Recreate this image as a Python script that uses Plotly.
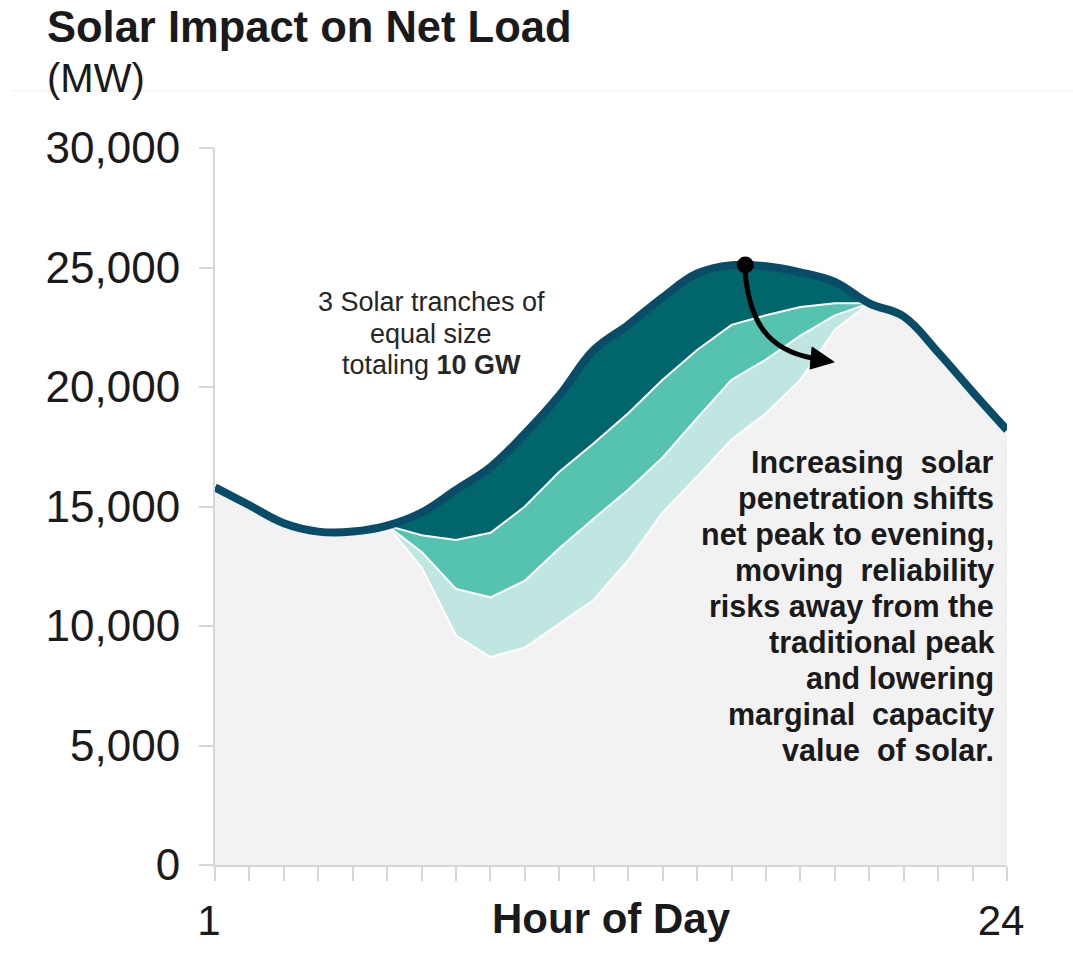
import plotly.graph_objects as go

# Hourly load profile (MW) and net load after each added solar tranche
hours = list(range(1, 25))
load_mw = [15800, 15050, 14300, 13950, 13950, 14200, 14750, 15700, 16650, 18050,
           19650, 21550, 22600, 23750, 24750, 25100, 25050, 24800, 24400, 23500,
           22950, 21450, 19800, 18200]

solar_hours = list(range(6, 21))
net_1_tranche = [14200, 13800, 13600, 13900, 15000, 16450, 17650, 18900, 20300,
                 21550, 22600, 23000, 23350, 23500, 23500]
net_2_tranches = [14200, 13100, 11550, 11200, 11900, 13250, 14500, 15700, 17050,
                  18700, 20300, 21150, 22150, 23000, 23500]
net_3_tranches = [14200, 12450, 9600, 8700, 9100, 10100, 11100, 12750, 14750,
                  16250, 17800, 18900, 20300, 22400, 23500]

y_ticks = [0, 5000, 10000, 15000, 20000, 25000, 30000]
x_tick_text = {1: "1", 24: "24"}

peak_hour = 16.4
peak_mw = 25100

FONT = "Liberation Sans, Arial, sans-serif"
NAVY = "#084c68"
TEAL_DARK = "#00666b"
TEAL_MID = "#56c2b0"
TEAL_LIGHT = "#c0e6e1"
GRID_GREY = "#d6d6d6"
TEXT = "#1a1a1a"
SMOOTH = 1.1

fig = go.Figure()

# grey area under the gross load curve
fig.add_trace(go.Scatter(
    x=hours, y=load_mw, mode="lines", line=dict(width=0, shape="spline", smoothing=SMOOTH),
    fill="tozeroy", fillcolor="#f2f2f2", hoverinfo="skip", showlegend=False))

# base for the stacked solar wedges: load over the solar hours
solar_idx = [hours.index(h) for h in solar_hours]
fig.add_trace(go.Scatter(
    x=solar_hours, y=[load_mw[i] for i in solar_idx], mode="lines",
    line=dict(width=0, shape="spline", smoothing=SMOOTH),
    hoverinfo="skip", showlegend=False))

for series, colour in [(net_1_tranche, TEAL_DARK), (net_2_tranches, TEAL_MID),
                       (net_3_tranches, TEAL_LIGHT)]:
    fig.add_trace(go.Scatter(
        x=solar_hours, y=series, mode="lines", line=dict(width=0),
        fill="tonexty", fillcolor=colour, hoverinfo="skip", showlegend=False))

# white edges between the tranches
for series in [net_1_tranche, net_2_tranches, net_3_tranches]:
    fig.add_trace(go.Scatter(
        x=solar_hours, y=series, mode="lines", line=dict(width=2, color="white"),
        hoverinfo="skip", showlegend=False))

# gross load line
fig.add_trace(go.Scatter(
    x=hours, y=load_mw, mode="lines",
    line=dict(width=8, color=NAVY, shape="spline", smoothing=SMOOTH),
    hoverinfo="skip", showlegend=False))

# peak marker
fig.add_trace(go.Scatter(
    x=[peak_hour], y=[peak_mw], mode="markers", cliponaxis=False,
    marker=dict(size=17, color="black"), hoverinfo="skip", showlegend=False))

# curved arrow showing the peak moving to the evening
arrow_path = "M 16.39,24895 C 16.51,22719 17.06,21548 18.34,21213"
arrow_head = "M 18.98,21046 L 18.34,21673 L 18.28,20752 Z"

shapes = [
    dict(type="path", path=arrow_path, xref="x", yref="y",
         line=dict(color="black", width=5)),
    dict(type="path", path=arrow_head, xref="x", yref="y",
         fillcolor="black", line=dict(color="black", width=1)),
    dict(type="line", xref="paper", yref="paper", x0=-0.256, x1=1.09,
         y0=1.0795, y1=1.0795, line=dict(color="#eeeeee", width=1)),
]

annotations = [
    dict(text="(MW)", xref="paper", yref="paper", x=-0.2145, y=1.0976,
         xanchor="left", yanchor="middle", showarrow=False,
         font=dict(family=FONT, size=40, color=TEXT)),
    dict(text="<b>Hour of Day</b>", xref="paper", yref="paper", x=0.5, y=-0.074,
         xanchor="center", yanchor="middle", showarrow=False,
         font=dict(family=FONT, size=42, color=TEXT)),
]

tranche_lines = ["3 Solar tranches of", "equal size", "totaling <b>10 GW</b>"]
for i, line in enumerate(tranche_lines):
    py = 302 + 31.5 * i
    annotations.append(dict(
        text=line, xref="paper", yref="paper", x=(431 - 215) / 792,
        y=(865 - py) / 717, xanchor="center", yanchor="middle", showarrow=False,
        font=dict(family=FONT, size=27, color="#262626")))

note_lines = ["Increasing  solar", "penetration shifts", "net peak to evening,",
              "moving  reliability", "risks away from the", "traditional peak",
              "and lowering", "marginal  capacity", "value  of solar."]
for i, line in enumerate(note_lines):
    py = 462 + 36.0 * i
    annotations.append(dict(
        text=f"<b>{line}</b>", xref="paper", yref="paper",
        x=(996 - 215) / 792, y=(865 - py) / 717, xanchor="right", yanchor="middle",
        align="right", showarrow=False,
        font=dict(family=FONT, size=30.5, color=TEXT)))

fig.update_layout(
    width=1073, height=980,
    margin=dict(l=215, r=66, t=148, b=115),
    paper_bgcolor="white", plot_bgcolor="white",
    title=dict(text="<b>Solar Impact on Net Load</b>", xref="container", yref="container",
               x=47 / 1073, y=1 - 27 / 980, xanchor="left", yanchor="middle",
               font=dict(family=FONT, size=43.5, color=TEXT)),
    shapes=shapes, annotations=annotations,
    xaxis=dict(range=[1, 24], tickvals=hours,
               ticktext=[x_tick_text.get(h, "") for h in hours],
               showgrid=False, zeroline=False, showline=True, linecolor=GRID_GREY,
               linewidth=2, ticks="outside", ticklen=14, tickwidth=2,
               tickcolor=GRID_GREY, ticklabelstandoff=4, ticklabelshift=-6,
               tickfont=dict(family=FONT, size=42, color=TEXT)),
    yaxis=dict(range=[0, 30000], tickvals=y_ticks, tickformat=",",
               showgrid=False, zeroline=False, showline=True, linecolor=GRID_GREY,
               linewidth=2, ticks="outside", ticklen=14, tickwidth=2,
               tickcolor=GRID_GREY, ticklabelstandoff=10,
               tickfont=dict(family=FONT, size=44, color=TEXT)),
)

fig.write_html("out.html")
